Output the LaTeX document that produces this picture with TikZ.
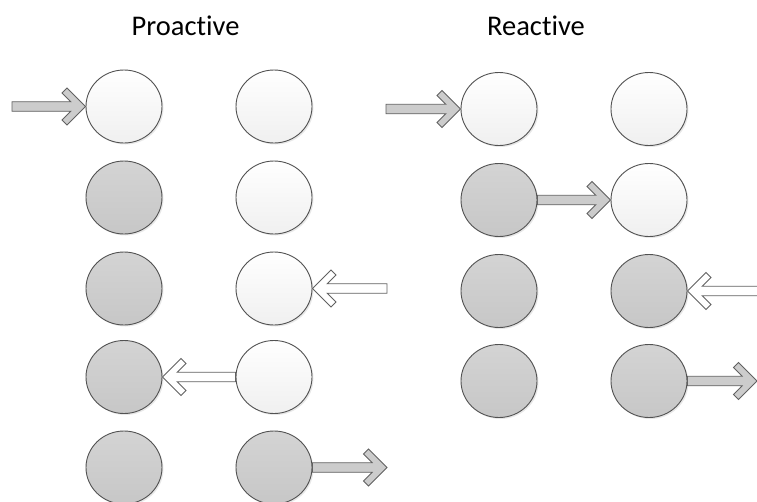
\documentclass[tikz,border=0pt]{standalone}
\usepackage{fontspec}
\setmainfont{Carlito}[Ligatures={NoCommon,NoRare}]
\usetikzlibrary{shapes.geometric,shadows,calc}

\tikzset{
  ball/.style={ellipse, minimum width=76pt, minimum height=73pt, inner sep=0pt,
    draw=black!68, line width=0.9pt,
    drop shadow={opacity=0.18, shadow xshift=1.5pt, shadow yshift=-1.5pt}},
  lightball/.style={ball, top color=white, bottom color=black!6},
  darkball/.style={ball, top color=black!17, bottom color=black!22},
  grayarrow/.style={draw=black!62, line width=0.8pt, fill=black!20, line join=miter},
  whitearrow/.style={draw=black!62, line width=0.8pt, fill=white, line join=miter},
  title/.style={font=\fontsize{28.5}{34}\selectfont, anchor=base}
}

% Horizontal block arrow with an open chevron head: style, tail, tip
\newcommand\blockarrow[3]{%
  \draw[#1] let \p1=(#2), \p2=(#3), \n1={sign(\x2-\x1)} in
    (\p2) -- ++({-18.5pt*(\n1)},18.5pt) -- ++({-5pt*(\n1)},-5pt)
    -- ({\x2-14.75pt*(\n1)},{\y2+4.75pt}) -- (\x1,{\y2+4.75pt})
    -- (\x1,{\y2-4.75pt}) -- ({\x2-14.75pt*(\n1)},{\y2-4.75pt})
    -- ++({-8.75pt*(\n1)},-8.75pt) -- ++({5pt*(\n1)},-5pt) -- cycle;
}

\begin{document}
\begin{tikzpicture}[x=1pt,y=-1pt]
  \fill[white] (0,0) rectangle (757,501);
  \useasboundingbox (0,0) rectangle (757,501);

  \node[title] (tp) at (185.5,35) {Proactive};
  \node[title] (tr) at (536,35) {Reactive};

  % Proactive
  \node[lightball] (p11) at (124,106.5) {};
  \node[lightball] (p12) at (274,106.5) {};
  \node[darkball]  (p21) at (124,197.5) {};
  \node[lightball] (p22) at (274,197.5) {};
  \node[darkball]  (p31) at (124,288.5) {};
  \node[lightball] (p32) at (274,288.5) {};
  \node[darkball]  (p41) at (124,377) {};
  \node[lightball] (p42) at (274,377) {};
  \node[darkball]  (p51) at (124,467.5) {};
  \node[darkball]  (p52) at (274,467.5) {};

  % Reactive
  \node[lightball] (r11) at (499,109) {};
  \node[lightball] (r12) at (649,109) {};
  \node[darkball]  (r21) at (499,200) {};
  \node[lightball] (r22) at (649,200) {};
  \node[darkball]  (r31) at (499,291) {};
  \node[darkball]  (r32) at (649,291) {};
  \node[darkball]  (r41) at (499,381) {};
  \node[darkball]  (r42) at (649,381) {};

  % free arrow ends
  \coordinate (inP)   at (12,106.5);
  \coordinate (inP3)  at (387,288.5);
  \coordinate (outP5) at (387,467.5);
  \coordinate (inR)   at (386,109);
  \coordinate (inR3)  at (770,291);
  \coordinate (outR4) at (757,381);

  \blockarrow{grayarrow}{inP}{p11.west}
  \blockarrow{whitearrow}{inP3}{p32.east}
  \blockarrow{whitearrow}{p42.west}{p41.east}
  \blockarrow{grayarrow}{p52.east}{outP5}

  \blockarrow{grayarrow}{inR}{r11.west}
  \blockarrow{grayarrow}{r21.east}{r22.west}
  \blockarrow{whitearrow}{inR3}{r32.east}
  \blockarrow{grayarrow}{r42.east}{outR4}
\end{tikzpicture}
\end{document}
